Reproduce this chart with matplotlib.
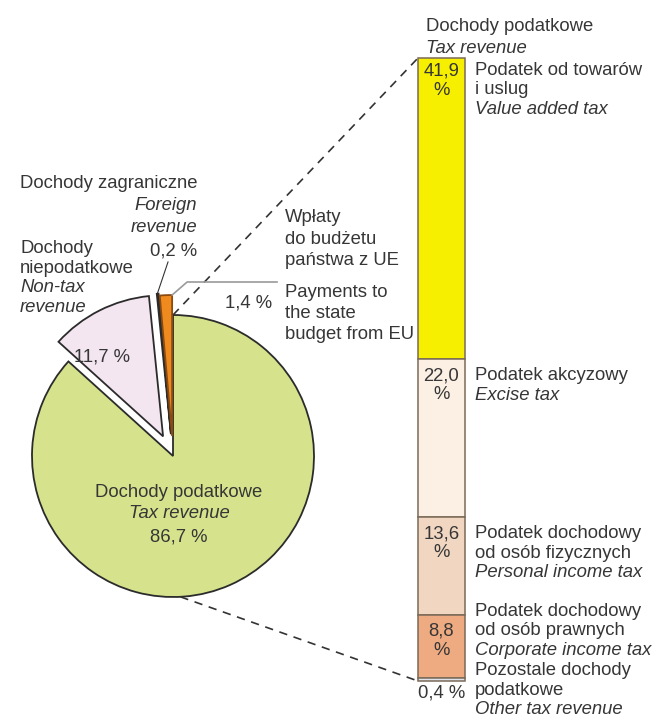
import matplotlib
matplotlib.use('Agg')
import matplotlib.pyplot as plt
import numpy as np

W, H = 656, 724

# pie: state budget revenue (% of total)
pie_values = [86.7, 11.7, 0.2, 1.4]
pie_colors = ['#d6e38c', '#f3e6f1', '#ffffff', '#ef8a1e']

# column: tax revenue broken down (% of total revenue)
tax_values = [41.9, 22.0, 13.6, 8.8, 0.4]
tax_colors = ['#f6ef00', '#fcefe4', '#f1d6c2', '#eeaa80', '#dfe2ea']
tax_labels = [
    ['Podatek od towarów', 'i uslug', 'Value added tax'],
    ['Podatek akcyzowy', 'Excise tax'],
    ['Podatek dochodowy', 'od osób fizycznych', 'Personal income tax'],
    ['Podatek dochodowy', 'od osób prawnych', 'Corporate income tax'],
    ['Pozostale dochody', 'podatkowe', 'Other tax revenue'],
]

TXT = '#363636'
FS = 13.3
plt.rcParams['font.family'] = ['Liberation Sans', 'DejaVu Sans']


def pct(v, sep=' '):
    return f'{v:.1f}'.replace('.', ',') + sep + '%'


fig = plt.figure(figsize=(6.56, 7.24), dpi=100)
ax = fig.add_axes([0, 0, 1, 1])


def put(x, y, s, ha='left', italic=False):
    # y is given in pixels from the top
    ax.text(x, H - y, s, ha=ha, va='baseline', color=TXT, fontsize=FS,
            style='italic' if italic else 'normal')


def rim(w, deg):
    # point on the outer edge of a wedge at the given angle
    t = np.deg2rad(deg)
    return w.center[0] + w.r * np.cos(t), w.center[1] + w.r * np.sin(t)


# --- pie ---
cx, cy, r = 173, H - 456, 141
wedges, _ = ax.pie(pie_values, colors=pie_colors, startangle=90, counterclock=False,
                   explode=[0, 22, 22, 20], center=(cx, cy), radius=r,
                   wedgeprops=dict(edgecolor='#2b2b2b', linewidth=1.3))
wedges[3].set_edgecolor('#8a4a10')

# --- stacked column ---
k = 623 / sum(tax_values)
top = H - 58
bx, bw = 441.5, 47
heights = [v * k for v in tax_values]
bottoms, tops = [], []
acc = top
for h in heights:
    tops.append(acc)
    acc -= h
    bottoms.append(acc)
ax.bar([bx] * len(tax_values), heights, bottom=bottoms, width=bw,
       color=tax_colors, edgecolor='#7a6a58', linewidth=1.1, zorder=3)

# numbers inside the column
for i, v in enumerate(tax_values[:-1]):
    yt = H - tops[i]
    off = 18 if i == 0 else 21
    put(bx, yt + off, f'{v:.1f}'.replace('.', ','), ha='center')
    put(bx, yt + off + 19, '%', ha='center')
put(bx - bw / 2, H - bottoms[-1] + 16, pct(tax_values[-1]))

# labels to the right of the column
label_off = [17, 21, 21, 1, -3]
for i, lab in enumerate(tax_labels):
    y0 = H - tops[i] + label_off[i]
    for j, s in enumerate(lab):
        put(475, y0 + j * 19.5, s, italic=(j == len(lab) - 1))

# dashed connectors
a = np.deg2rad(-87)
ax.plot([cx, bx - bw / 2], [cy + r, top], color='#333333', lw=1.2,
        ls=(0, (5, 4)), zorder=1)
ax.plot([cx + r * np.cos(a), bx - bw / 2], [cy + r * np.sin(a), bottoms[-1]],
        color='#333333', lw=1.2, ls=(0, (5, 4)), zorder=1)

# leaders
ox, oy = rim(wedges[3], min(wedges[3].theta1, wedges[3].theta2))
ax.plot([ox, ox + 15, 277], [oy, H - 282, H - 282], color='#9a9a9a', lw=1.2)
sw = wedges[2]
sx, sy = rim(sw, (sw.theta1 + sw.theta2) / 2)
ax.plot([168, sx], [H - 262, sy + 1], color='#333333', lw=0.8)

# --- pie texts ---
put(197, 188, 'Dochody zagraniczne', ha='right')
put(197, 210, 'Foreign', ha='right', italic=True)
put(197, 232, 'revenue', ha='right', italic=True)
put(197, 256, pct(pie_values[2]), ha='right')

put(20, 253, 'Dochody')
put(20, 273, 'niepodatkowe')
put(20, 292, 'Non-tax', italic=True)
put(20, 312, 'revenue', italic=True)

put(272, 307, pct(pie_values[3]), ha='right')
put(285, 222, 'Wpłaty')
put(285, 244, 'do budżetu')
put(285, 265, 'państwa z UE')
put(285, 297, 'Payments to')
put(285, 318, 'the state')
put(285, 339, 'budget from EU')

put(102, 362, pct(pie_values[1]), ha='center')
put(179, 497, 'Dochody podatkowe', ha='center')
put(179, 518, 'Tax revenue', ha='center', italic=True)
put(179, 541, pct(pie_values[0]), ha='center')

put(426, 31, 'Dochody podatkowe')
put(426, 53, 'Tax revenue', italic=True)

ax.set_xlim(0, W)
ax.set_ylim(0, H)
ax.set_aspect('auto')
ax.axis('off')

fig.savefig('out.png', dpi=100)
